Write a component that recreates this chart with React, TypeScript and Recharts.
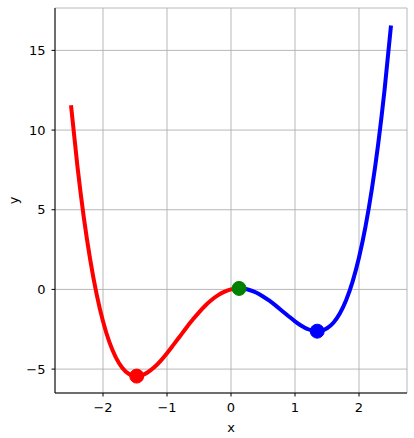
import React from 'react';
import { ComposedChart, Line, Scatter, XAxis, YAxis, CartesianGrid, Label } from 'recharts';

// Curve (x, y)
const redX = [-2.5, -2.4, -2.3, -2.2, -2.1, -2.0, -1.9, -1.8, -1.7, -1.6, -1.5, -1.4, -1.3, -1.2, -1.1, -1.0, -0.9, -0.8, -0.7, -0.6, -0.5, -0.4, -0.3, -0.2, -0.1, 0.0, 0.1, 0.126];
const redY = [11.56, 7.74, 4.52, 1.87, -0.29, -2.0, -3.31, -4.26, -4.91, -5.29, -5.44, -5.4, -5.2, -4.89, -4.48, -4.0, -3.48, -2.95, -2.42, -1.91, -1.44, -1.01, -0.65, -0.36, -0.14, 0.0, 0.06, 0.063];
const blueX = [0.126, 0.2, 0.3, 0.4, 0.5, 0.6, 0.7, 0.8, 0.9, 1.0, 1.1, 1.2, 1.3, 1.4, 1.5, 1.6, 1.7, 1.8, 1.9, 2.0, 2.1, 2.2, 2.3, 2.4, 2.5];
const blueY = [0.063, 0.04, -0.05, -0.21, -0.44, -0.71, -1.02, -1.35, -1.68, -2.0, -2.28, -2.49, -2.6, -2.6, -2.44, -2.09, -1.51, -0.66, 0.49, 2.0, 3.91, 6.27, 9.12, 12.54, 16.56];

// Marked points
const pointLabels = ['min-left', 'max', 'min-right'];
const pointX = [-1.473, 0.126, 1.347];
const pointY = [-5.44, 0.063, -2.62];
const pointColors = ['#ff0000', '#008000', '#0000ff'];

const xTicks = [-2, -1, 0, 1, 2];
const yTicks = [-5, 0, 5, 10, 15];

const redData = redX.map((x, i) => ({ x, y: redY[i] }));
const blueData = blueX.map((x, i) => ({ x, y: blueY[i] }));
const pointData = pointX.map((x, i) => ({ x, y: pointY[i], name: pointLabels[i], color: pointColors[i] }));

const FONT = "'DejaVu Sans', sans-serif";
const tickStyle = { fill: '#000', fontSize: 13, fontFamily: FONT };
const fmt = (v: number) => (v < 0 ? '\u2212' + Math.abs(v) : String(v));

const Dot = (props: any) => {
  const { cx, cy, payload } = props;
  return <circle cx={cx} cy={cy} r={7} fill={payload.color} stroke={payload.color} strokeWidth={1} />;
};

export default function App() {
  return (
    <div style={{ position: 'absolute', left: 0, top: 0, background: '#fff' }}>
      <ComposedChart width={414} height={438} margin={{ top: 8, right: 7, bottom: 0, left: 0 }} style={{ fontFamily: FONT }}>
        <CartesianGrid stroke="#b0b0b0" strokeWidth={0.9} horizontal vertical />
        <XAxis
          dataKey="x"
          type="number"
          domain={[-2.75, 2.75]}
          ticks={xTicks}
          allowDataOverflow
          height={45}
          tickSize={3.5}
          tickMargin={6}
          tick={tickStyle}
          stroke="#000"
          tickLine={{ stroke: '#000' }}
          axisLine={{ stroke: '#000' }}
          tickFormatter={fmt}
        >
          <Label
            content={(p: any) => {
              const vb = p.viewBox;
              return (
                <text x={vb.x + vb.width / 2} y={432} textAnchor="middle" fontSize={13} fontFamily={FONT} fill="#000">x</text>
              );
            }}
          />
        </XAxis>
        <XAxis xAxisId="top" orientation="top" type="number" domain={[-2.75, 2.75]} ticks={[]} tick={false} tickLine={false} height={0} axisLine={{ stroke: '#000' }} />
        <YAxis
          dataKey="y"
          type="number"
          domain={[-6.5, 17.66]}
          ticks={yTicks}
          allowDataOverflow
          width={55}
          tickSize={3.5}
          tickMargin={6}
          tick={tickStyle}
          stroke="#000"
          tickLine={{ stroke: '#000' }}
          axisLine={{ stroke: '#000' }}
          tickFormatter={fmt}
        >
          <Label
            content={(p: any) => {
              const vb = p.viewBox;
              const cy = vb.y + vb.height / 2;
              return (
                <text x={18} y={cy} transform={`rotate(-90 18 ${cy})`} textAnchor="middle" fontSize={13} fontFamily={FONT} fill="#000">y</text>
              );
            }}
          />
        </YAxis>
        <YAxis yAxisId="right" orientation="right" type="number" domain={[-6.5, 17.66]} ticks={[]} tick={false} tickLine={false} width={0} axisLine={{ stroke: '#000' }} />
        <Line data={redData} dataKey="y" type="monotone" stroke="#ff0000" strokeWidth={4} dot={false} isAnimationActive={false} />
        <Line data={blueData} dataKey="y" type="monotone" stroke="#0000ff" strokeWidth={4} dot={false} isAnimationActive={false} />
        <Scatter data={pointData} dataKey="y" shape={<Dot />} isAnimationActive={false} />
      </ComposedChart>
    </div>
  );
}
